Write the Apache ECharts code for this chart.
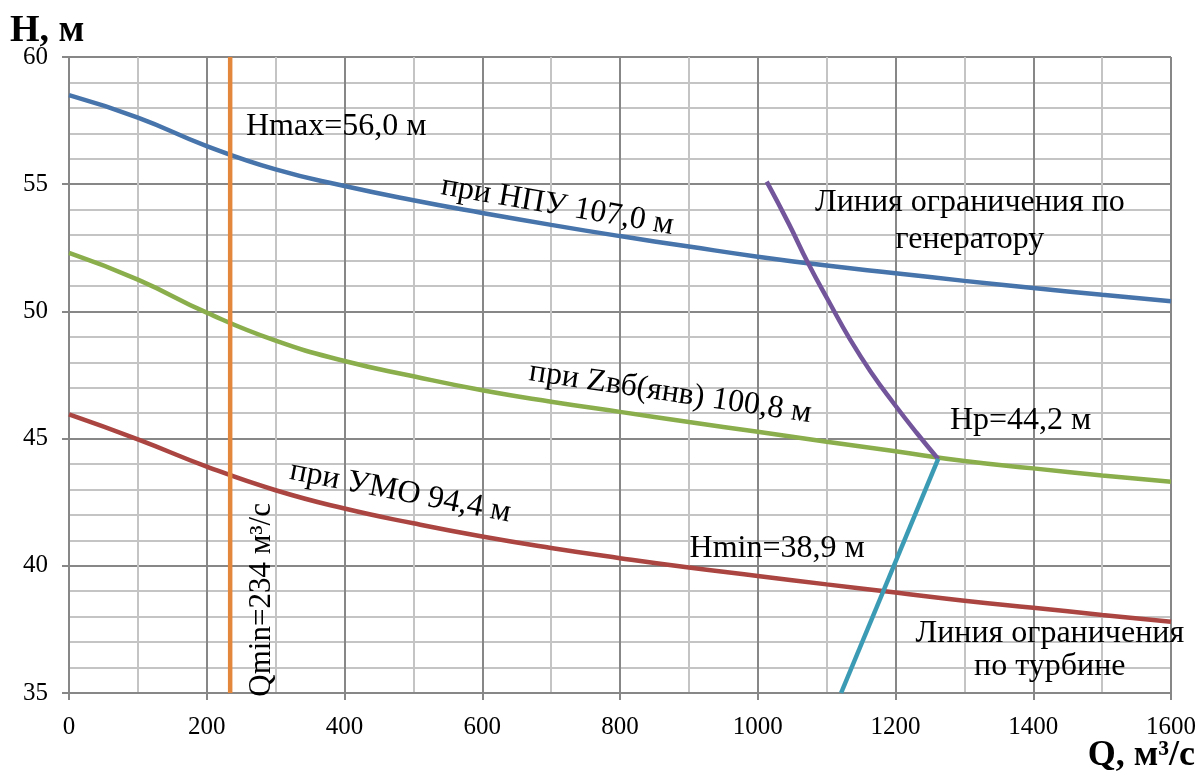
<!DOCTYPE html>
<html>
<head>
<meta charset="utf-8">
<script src="https://cdn.jsdelivr.net/npm/echarts@6/dist/echarts.min.js"></script>
<style>
  html, body { margin: 0; padding: 0; background: #fff; }
  #chart { width: 1200px; height: 780px; }
</style>
</head>
<body>
<div id="chart"></div>
<script>
// Расход Q, м³/с
const qValues = [0, 100, 200, 300, 400, 500, 600, 700, 800, 900, 1000, 1100, 1200, 1300, 1400, 1500, 1600];
// Напор при НПУ 107,0 м
const headNpu = [58.5, 57.62, 56.5, 55.58, 54.93, 54.37, 53.87, 53.4, 52.96, 52.55, 52.15, 51.8, 51.5, 51.2, 50.92, 50.65, 50.4];
// Напор при Zвб(янв) 100,8 м
const headZvb = [52.3, 51.25, 49.95, 48.85, 48.05, 47.45, 46.9, 46.45, 46.05, 45.65, 45.27, 44.88, 44.5, 44.12, 43.83, 43.55, 43.3];
// Напор при УМО 94,4 м
const headUmo = [45.95, 44.97, 43.9, 42.97, 42.25, 41.67, 41.15, 40.7, 40.3, 39.93, 39.6, 39.27, 38.95, 38.63, 38.35, 38.07, 37.8];
// Линия ограничения по генератору (Q, H)
const genLimit = [[1013, 55.1], [1045, 53.45], [1073, 51.9], [1104, 50.35], [1134, 48.9], [1166, 47.55], [1197, 46.4], [1230, 45.25], [1262, 44.2]];
// Линия ограничения по турбине (Q, H)
const turbLimit = [[1262, 44.2], [1121, 35.0]];
// Минимальный расход
const qMin = 234;
const qMinLine = [[qMin, 35], [qMin, 60]];
// Подписи
const hMaxText = 'Hmax=56,0 м';
const hMinText = 'Hmin=38,9 м';
const hpText = 'Hp=44,2 м';
const qMinText = 'Qmin=234 м³/с';
const npuText = 'при НПУ 107,0 м';
const zvbText = 'при Zвб(янв) 100,8 м';
const umoText = 'при УМО 94,4 м';
const genText = 'Линия ограничения по\nгенератору';
const turbText = 'Линия ограничения\nпо турбине';

const FONT = "'Liberation Serif', 'Times New Roman', serif";
const MAJOR = '#878787';
const MINOR = '#c4c4c4';

const pair = (ys) => qValues.map((q, i) => [q, ys[i]]);

const chart = echarts.init(document.getElementById('chart'), null, { renderer: 'canvas' });

const lineSeries = (data, color, smooth, z) => ({
  type: 'line', data, smooth, showSymbol: false, symbol: 'none', z,
  lineStyle: { color, width: 4.5 }, animation: false
});

chart.setOption({
  animation: false,
  backgroundColor: '#fff',
  grid: { left: 69, right: 29, top: 57, bottom: 87 },
  xAxis: {
    type: 'value', min: 0, max: 1600, interval: 200,
    axisLine: { show: true, lineStyle: { color: MAJOR, width: 2 } },
    axisTick: { show: true, length: 7, lineStyle: { color: MAJOR, width: 2 } },
    axisLabel: { color: '#000', fontFamily: FONT, fontSize: 25, margin: 22, formatter: (v) => String(v) },
    splitLine: { show: true, lineStyle: { color: MAJOR, width: 2 } },
    minorTick: { show: false, splitNumber: 2 },
    minorSplitLine: { show: true, lineStyle: { color: MINOR, width: 2 } }
  },
  yAxis: {
    type: 'value', min: 35, max: 60, interval: 5,
    axisLine: { show: true, lineStyle: { color: MAJOR, width: 2 } },
    axisTick: { show: true, length: 7, lineStyle: { color: MAJOR, width: 2 } },
    axisLabel: { color: '#000', fontFamily: FONT, fontSize: 25, margin: 21, formatter: (v) => String(v) },
    splitLine: { show: true, lineStyle: { color: MAJOR, width: 2 } },
    minorTick: { show: false, splitNumber: 5 },
    minorSplitLine: { show: true, lineStyle: { color: MINOR, width: 2 } }
  },
  series: [
    lineSeries(pair(headNpu), '#4674AB', 0.5, 3),
    lineSeries(pair(headZvb), '#8BAE4C', 0.5, 3),
    lineSeries(pair(headUmo), '#AA4541', 0.5, 3),
    lineSeries(genLimit, '#72559B', 0.5, 4),
    lineSeries(turbLimit, '#3B9BB5', false, 4),
    lineSeries(qMinLine, '#E2873C', false, 5)
  ]
});

// Подписи к кривым, привязанные к координатам графика
const px = (q, h) => chart.convertToPixel({ gridIndex: 0 }, [q, h]);
const txt = (text, q, h, opts) => {
  const p = px(q, h);
  return {
    type: 'text', x: p[0], y: p[1], rotation: opts.rotation || 0, z: 100,
    style: {
      text, fill: '#000', font: `${opts.size || 32}px ${FONT}`,
      textAlign: opts.align || 'center', textVerticalAlign: 'middle',
      lineHeight: opts.lineHeight || 36
    }
  };
};
const deg = (d) => d * Math.PI / 180;

chart.setOption({
  graphic: [
    { type: 'text', left: 10, top: 12, z: 100,
      style: { text: 'H, м', fill: '#000', font: `bold 38px ${FONT}` } },
    { type: 'text', right: 5, top: 738, z: 100,
      style: { text: 'Q, м³/с', fill: '#000', font: `bold 36px ${FONT}` } },
    txt(hMaxText, 257, 57.25, { align: 'left' }),
    txt(npuText, 709, 54.15, { rotation: deg(-9.8) }),
    txt(zvbText, 873, 46.8, { rotation: deg(-8.5) }),
    txt(umoText, 481, 42.9, { rotation: deg(-11) }),
    txt(genText, 1308, 53.55, { lineHeight: 37 }),
    txt(hpText, 1279, 45.69, { align: 'left' }),
    txt(hMinText, 901, 40.66, { align: 'left' }),
    txt(turbText, 1424, 36.7, { lineHeight: 33 }),
    txt(qMinText, 280, 38.66, { rotation: deg(90), size: 31 })
  ]
});
</script>
</body>
</html>
